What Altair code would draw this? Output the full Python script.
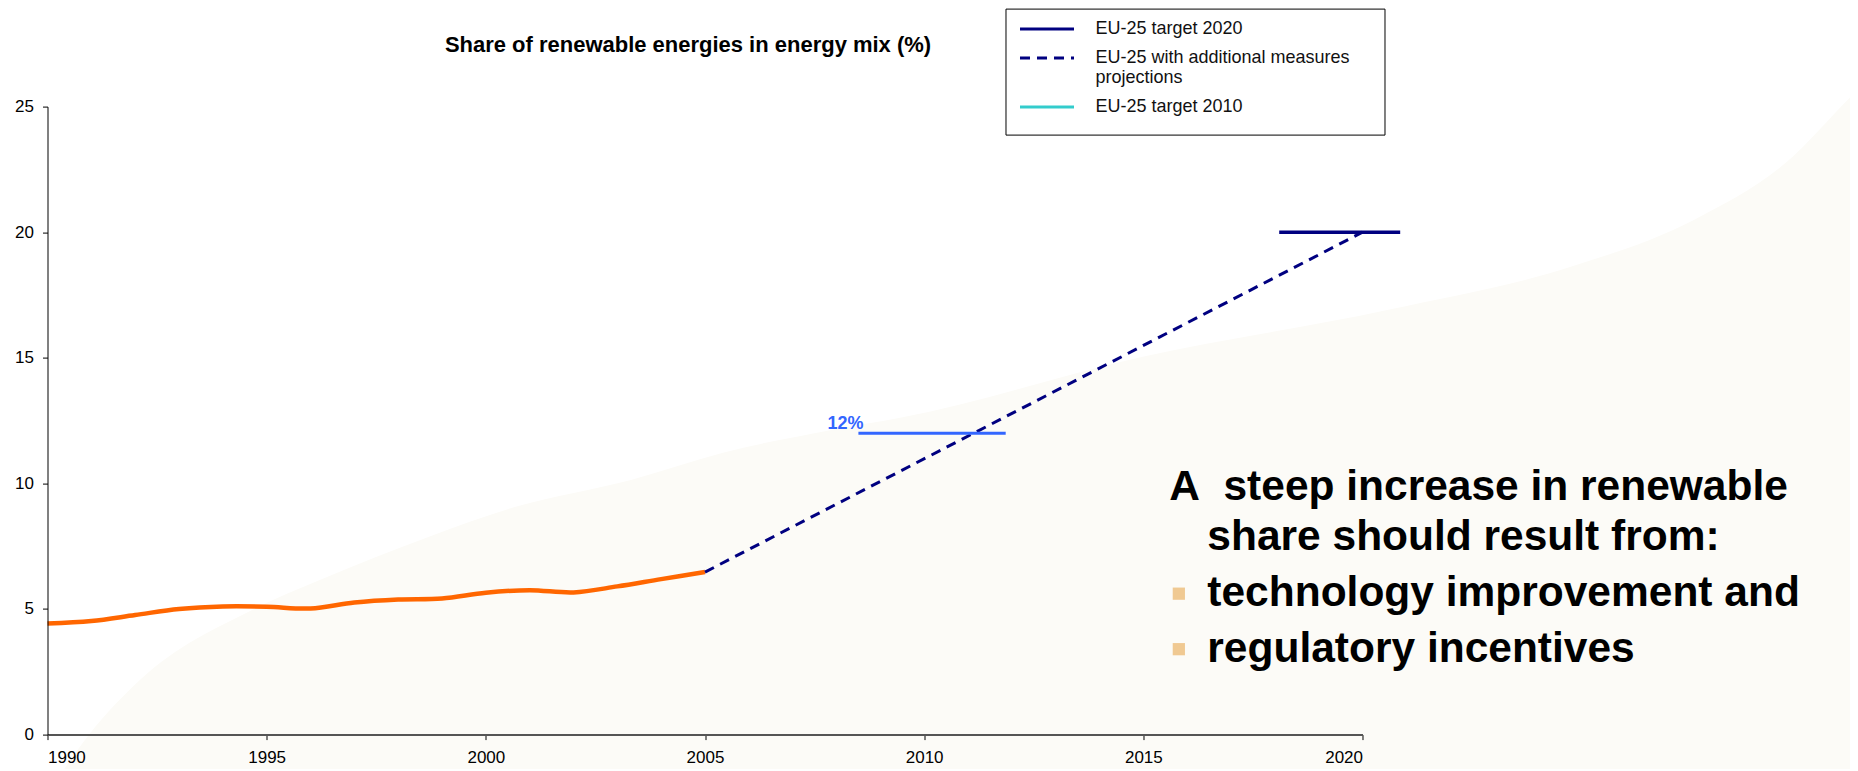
import altair as alt
import pandas as pd

# ---------------- data ----------------
hist_years = list(range(1990, 2006))
hist_share = [4.42, 4.52, 4.76, 5.00, 5.10, 5.09, 5.02, 5.26, 5.38, 5.42,
              5.65, 5.75, 5.66, 5.90, 6.19, 6.47]

proj_years = [2005, 2020]
proj_share = [6.47, 20.0]

series_names = ["EU-25 target 2020",
                "EU-25 with additional measures projections",
                "EU-25 target 2010"]
series_colors = ["#000080", "#000080", "#33CCCC"]
series_dashes = [[1, 0], [10, 7], [1, 0]]

target2020_span = [2018.1, 2020.86]
target2020_value = 20.0
target2010_span = [2008.5, 2011.86]
target2010_value = 12.0
target2010_label = "12%"

# decorative pale background shape of the slide (upper edge)
bg_years = [1990.35, 1990.95, 1992.12, 1994.68, 1996.24, 1998.72, 2000.70,
            2003.31, 2005.41, 2007.89, 2009.45, 2015.01, 2020.59, 2024.77,
            2027.56, 2029.65, 2031.30, 2032.5]
bg_top = [-1.45, 0.0, 2.19, 4.97, 6.17, 7.89, 9.08, 10.14, 11.22, 12.13,
          12.61, 15.05, 16.91, 18.63, 20.49, 22.75, 25.66, 27.5]
bg_bottom = -1.45

note_lines = ["A\u00a0 steep increase in renewable",
              "share should result from:",
              "technology improvement and",
              "regulatory incentives"]
note_x = [2015.59, 2016.46, 2016.46, 2016.46]
note_y = [9.35, 7.36, 5.10, 2.88]
bullet_x = [2015.81, 2015.81]
bullet_y = [5.61, 3.40]

x_ticks = [1990, 1995, 2000, 2005, 2010, 2015, 2020]
y_ticks = [0, 5, 10, 15, 20, 25]

# ---------------- tables ----------------
hist_df = pd.DataFrame({"year": hist_years, "share": hist_share})
proj_df = pd.DataFrame({"year": proj_years, "share": proj_share,
                        "series": [series_names[1]] * 2})
t2020_df = pd.DataFrame({"x": [target2020_span[0]], "x2": [target2020_span[1]],
                         "y": [target2020_value], "series": [series_names[0]]})
t2010_df = pd.DataFrame({"x": [target2010_span[0]], "x2": [target2010_span[1]],
                         "y": [target2010_value], "label": [target2010_label]})
bg_df = pd.DataFrame({"year": bg_years, "top": bg_top,
                      "bottom": [bg_bottom] * len(bg_years)})
note_df = pd.DataFrame({"x": note_x, "y": note_y, "text": note_lines})
bullet_df = pd.DataFrame({"x": bullet_x, "y": bullet_y})

FONT = "Liberation Sans"

xscale = alt.Scale(domain=[1990, 2020], nice=False, zero=False)
yscale = alt.Scale(domain=[0, 25], nice=False)

X = lambda f: alt.X(f, type="quantitative", scale=xscale,
                    axis=alt.Axis(values=x_ticks, format="d", title=None,
                                  labelPadding=10, domainColor="#555555",
                                  domainWidth=2, zindex=1, grid=False))
Y = lambda f: alt.Y(f, type="quantitative", scale=yscale,
                    axis=alt.Axis(values=y_ticks, title=None, labelPadding=9,
                                  domainColor="#000000", domainWidth=1,
                                  zindex=1, grid=False))

color_scale = alt.Scale(domain=series_names, range=series_colors)
dash_scale = alt.Scale(domain=series_names, range=series_dashes)

NB = "\u00a0"
ZW = "\u200b"
long_label = series_names[1]
legend = alt.Legend(
    title=NB + ZW, titleOrient="bottom", titleFontSize=6, titlePadding=2.5,
    orient="none", legendX=958, legendY=-98,
    symbolType="M-0.6,0H4.8", symbolSize=400, symbolStrokeWidth=3,
    labelFont=FONT, labelFontSize=18, labelColor="#111111",
    labelOffset=58, labelLimit=800,
    labelExpr=("datum.label == '" + long_label + "' ? "
               "['EU-25 with additional measures" + NB * 5 + ZW + "', 'projections'] : "
               "datum.label"),
    strokeColor="#000000", fillColor="#ffffff", padding=9, rowPadding=8,
)

bg = alt.Chart(bg_df).mark_area(color="#FCFBF7", clip=False,
                                interpolate="monotone").encode(
    x=X("year"), y=Y("top"), y2="bottom")

hist = alt.Chart(hist_df).mark_line(
    color="#FF6600", strokeWidth=4.5, interpolate="catmull-rom").encode(
    x=X("year"), y=Y("share"))

proj = alt.Chart(proj_df).mark_line(strokeWidth=3).encode(
    x=X("year"), y=Y("share"),
    color=alt.Color("series:N", scale=color_scale, legend=legend),
    strokeDash=alt.StrokeDash("series:N", scale=dash_scale, legend=legend))

t2020 = alt.Chart(t2020_df).mark_rule(strokeWidth=3.5).encode(
    x=X("x"), x2="x2", y=Y("y"),
    color=alt.Color("series:N", scale=color_scale, legend=legend))

t2010 = alt.Chart(t2010_df).mark_rule(strokeWidth=3, color="#3366FF").encode(
    x=X("x"), x2="x2", y=Y("y"))

t2010_text = alt.Chart(t2010_df).mark_text(
    align="right", baseline="alphabetic", dx=5, dy=-4, font=FONT,
    fontSize=18, fontWeight="bold", color="#3366FF").encode(
    x=X("x"), y=Y("y"), text="label:N")

notes = alt.Chart(note_df).mark_text(
    align="left", baseline="alphabetic", font=FONT, fontSize=42.5,
    fontWeight="bold", color="#000000", clip=False).encode(
    x=X("x"), y=Y("y"), text="text:N")

bullets = alt.Chart(bullet_df).mark_square(
    size=150, color="#F0C992", opacity=1, clip=False).encode(
    x=X("x"), y=Y("y"))

chart = alt.layer(bg, hist, proj, t2020, t2010, t2010_text, bullets, notes).properties(
    width=1315, height=628,
    title=alt.TitleParams("Share of renewable energies in energy mix (%)",
                          font=FONT, fontSize=22, fontWeight="bold",
                          color="#000000", anchor="middle", frame="group",
                          offset=-49, dx=-17),
    autosize=alt.AutoSizeParams(type="none"),
    padding={"left": 39.5, "top": 98.6, "right": 487.5, "bottom": 34},
    background="#ffffff",
).configure_view(stroke=None).configure_axis(
    labelFont=FONT, labelFontSize=17, labelColor="#000000",
    tickColor="#000000", tickSize=5, grid=False,
)

chart.save("out.html", embed_options={"renderer": "svg", "actions": False})
